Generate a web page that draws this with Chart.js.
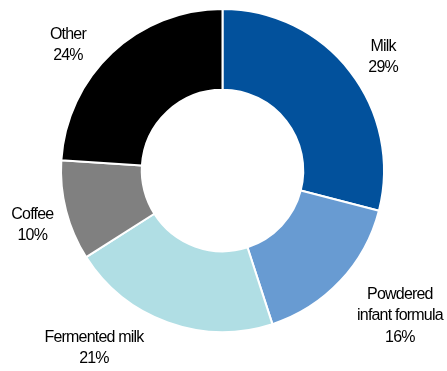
<!DOCTYPE html>
<html>
<head>
<meta charset="utf-8">
<script src="https://cdn.jsdelivr.net/npm/chart.js@4.4.1/dist/chart.umd.min.js"></script>
<style>
  html, body { margin: 0; padding: 0; background: #ffffff; }
  #wrap { width: 447px; height: 371px; position: relative; }
</style>
</head>
<body>
<div id="wrap"><canvas id="chartShare"></canvas></div>
<script>
// Données
const categories = [['Milk'], ['Powdered', 'infant formula'], ['Fermented milk'], ['Coffee'], ['Other']];
const shares = [29, 16, 21, 10, 24];
const sliceColors = ['#02519c', '#689bd2', '#b0dee4', '#808080', '#000000'];

// label placement: nudge from the slice mid-angle anchor
const labelNudge = [[3, 9], [32, 9], [-61, -10], [3, 5], [-18, 20]];

const outsideLabels = {
    id: 'outsideLabels',
    afterDatasetsDraw(chart) {
        const ctx = chart.ctx;
        const meta = chart.getDatasetMeta(0);
        ctx.save();
        ctx.font = '16px "Liberation Sans", Arial, sans-serif';
        ctx.letterSpacing = '-0.8px';
        ctx.fillStyle = '#000000';
        ctx.textAlign = 'center';
        ctx.textBaseline = 'middle';
        const lineH = 21.5;
        meta.data.forEach((arc, i) => {
            const p = arc.getProps(['x', 'y', 'startAngle', 'endAngle', 'outerRadius'], true);
            const mid = (p.startAngle + p.endAngle) / 2;
            const r = p.outerRadius * 1.235;
            const cx = p.x + Math.cos(mid) * r + labelNudge[i][0];
            const cy = p.y + Math.sin(mid) * r + labelNudge[i][1];
            const lines = categories[i].concat([shares[i] + '%']);
            const top = cy - (lines.length - 1) * lineH / 2;
            lines.forEach((t, k) => ctx.fillText(t, cx, top + k * lineH));
        });
        ctx.restore();
    }
};

new Chart(document.getElementById('chartShare'), {
    type: 'doughnut',
    data: {
        labels: categories.map(l => l.join(' ')),
        datasets: [{
            data: shares,
            backgroundColor: sliceColors,
            borderColor: '#ffffff',
            borderWidth: 2,
            hoverOffset: 0
        }]
    },
    options: {
        responsive: true,
        maintainAspectRatio: false,
        animation: false,
        cutout: '50%',
        layout: { padding: { top: 7, bottom: 37, left: 60, right: 62 } },
        plugins: {
            legend: { display: false },
            tooltip: { enabled: false }
        }
    },
    plugins: [outsideLabels]
});
</script>
</body>
</html>
